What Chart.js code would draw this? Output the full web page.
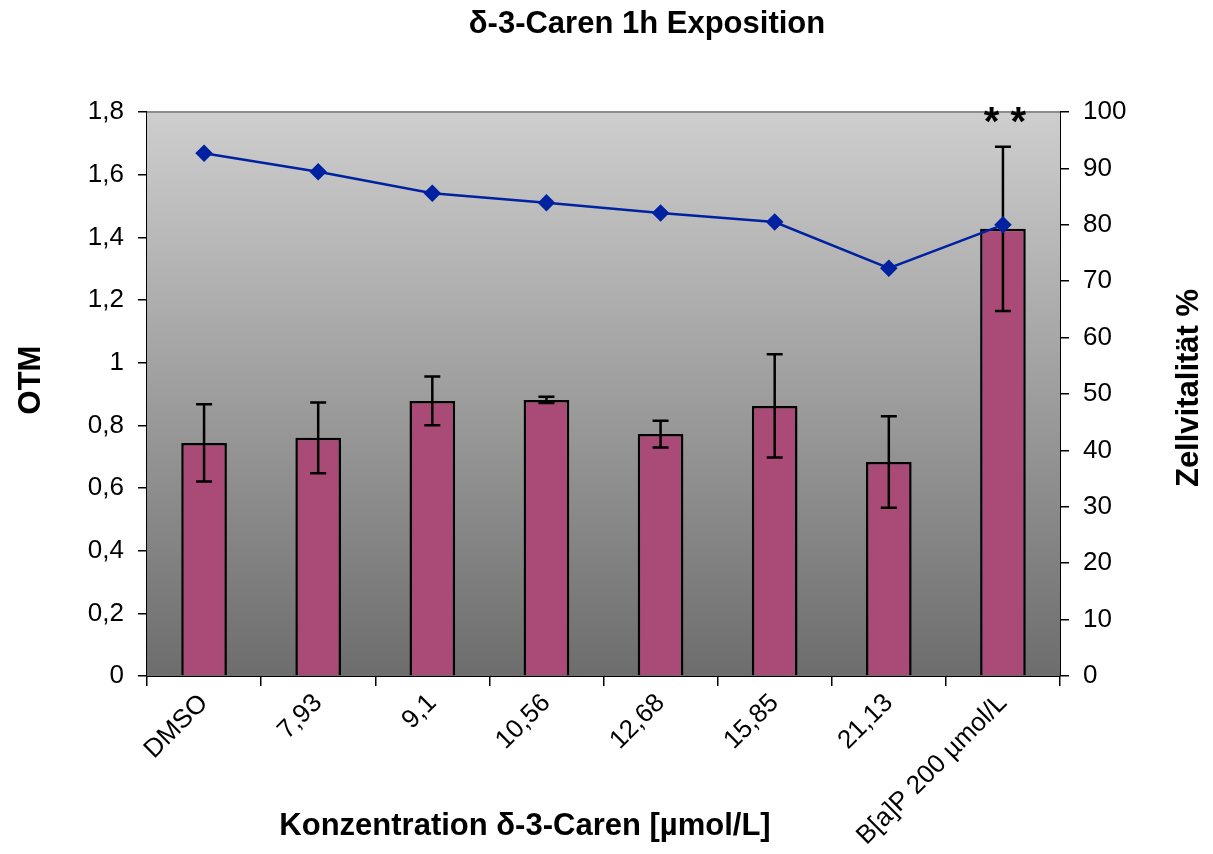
<!DOCTYPE html>
<html>
<head>
<meta charset="utf-8">
<script src="https://cdn.jsdelivr.net/npm/chart.js@4"></script>
<style>
  body { margin: 0; background: #fff; }
</style>
</head>
<body>
<canvas id="chart" width="1213" height="854"></canvas>
<script>
Chart.defaults.font.family = "'Liberation Sans', Arial, sans-serif";
Chart.defaults.color = '#000';

// data
var categories = ['DMSO', '7,93', '9,1', '10,56', '12,68', '15,85', '21,13', 'B[a]P 200 µmol/L'];
var otm_values = [0.744, 0.760, 0.878, 0.881, 0.772, 0.862, 0.683, 1.427];
var otm_errors = [0.123, 0.113, 0.078, 0.010, 0.043, 0.165, 0.146, 0.262];
var vitality = [92.7, 89.4, 85.6, 83.9, 82.1, 80.5, 72.3, 80.0];
var significance = ['', '', '', '', '', '', '', '**'];

var chart_title = 'δ-3-Caren 1h Exposition';
var x_title = 'Konzentration δ-3-Caren [µmol/L]';
var y_left_title = 'OTM';
var y_right_title = 'Zellvitalität %';

function comma(v) {
    return String(Number(v.toFixed(1))).replace('.', ',');
}

// grey gradient behind the plot area
var backdrop = {
    id: 'backdrop',
    beforeDatasetsDraw: function(chart) {
        var a = chart.chartArea;
        var ctx = chart.ctx;
        var g = ctx.createLinearGradient(0, a.top, 0, a.bottom);
        g.addColorStop(0, '#cecece');
        g.addColorStop(1, '#6d6d6d');
        ctx.save();
        ctx.fillStyle = g;
        ctx.fillRect(a.left, a.top, a.right - a.left, a.bottom - a.top);
        ctx.strokeStyle = '#8c8c8c';
        ctx.lineWidth = 2;
        ctx.beginPath();
        ctx.moveTo(a.left, a.top);
        ctx.lineTo(a.right, a.top);
        ctx.stroke();
        ctx.restore();
    }
};

// error bars + significance stars, drawn right after the bars
var errorbars = {
    id: 'errorbars',
    afterDatasetDraw: function(chart, args) {
        if (args.index !== 0) return;
        var ctx = chart.ctx;
        var y = chart.scales.y;
        var meta = chart.getDatasetMeta(0);
        ctx.save();
        ctx.strokeStyle = '#000';
        ctx.lineWidth = 2.5;
        meta.data.forEach(function(bar, i) {
            var x = bar.x;
            var hi = y.getPixelForValue(otm_values[i] + otm_errors[i]);
            var lo = y.getPixelForValue(otm_values[i] - otm_errors[i]);
            ctx.beginPath();
            ctx.moveTo(x, hi); ctx.lineTo(x, lo);
            ctx.moveTo(x - 8, hi); ctx.lineTo(x + 8, hi);
            ctx.moveTo(x - 8, lo); ctx.lineTo(x + 8, lo);
            ctx.stroke();
            if (significance[i]) {
                ctx.fillStyle = '#000';
                ctx.font = "bold 40px 'Liberation Sans', Arial, sans-serif";
                ctx.textAlign = 'center';
                ctx.textBaseline = 'middle';
                ctx.fillText(significance[i].split('').join(' '), x + 2, chart.chartArea.top + 12);
            }
        });
        ctx.restore();
    }
};

// titles placed like the original
var titles = {
    id: 'titles',
    afterDraw: function(chart) {
        var ctx = chart.ctx;
        var a = chart.chartArea;
        ctx.save();
        ctx.fillStyle = '#000';
        ctx.textAlign = 'center';
        ctx.textBaseline = 'middle';
        ctx.font = "bold 31px 'Liberation Sans', Arial, sans-serif";
        ctx.fillText(chart_title, 647, 24);
        ctx.fillText(x_title, 525, 826);
        ctx.translate(31, 380);
        ctx.rotate(-Math.PI / 2);
        ctx.fillText(y_left_title, 0, 0);
        ctx.restore();
        ctx.save();
        ctx.fillStyle = '#000';
        ctx.textAlign = 'center';
        ctx.textBaseline = 'middle';
        ctx.font = "bold 31px 'Liberation Sans', Arial, sans-serif";
        ctx.translate(1189, 388);
        ctx.rotate(-Math.PI / 2);
        ctx.fillText(y_right_title, 0, 0);
        ctx.restore();
    }
};

const ctx = document.getElementById('chart');
new Chart(ctx, {
    data: {
        labels: categories,
        datasets: [{
            type: 'bar',
            label: 'OTM',
            data: otm_values,
            yAxisID: 'y',
            backgroundColor: '#aa4a77',
            borderColor: '#000',
            borderWidth: 2.5,
            barPercentage: 0.4,
            categoryPercentage: 1.0,
            order: 1
        }, {
            type: 'line',
            label: 'Zellvitalität',
            data: vitality,
            yAxisID: 'y2',
            borderColor: '#0022a0',
            backgroundColor: '#0022a0',
            borderWidth: 2.5,
            pointStyle: 'rectRot',
            pointRadius: 7,
            pointHoverRadius: 7,
            tension: 0,
            order: 0
        }]
    },
    options: {
        responsive: false,
        animation: false,
        layout: { padding: { top: 112, left: 0, right: 0, bottom: 0 } },
        plugins: {
            legend: { display: false },
            tooltip: { enabled: false },
            title: { display: false }
        },
        scales: {
            x: {
                offset: true,
                grid: {
                    offset: true,
                    drawOnChartArea: false,
                    tickLength: 10,
                    color: '#000',
                    lineWidth: 1.5
                },
                border: { color: '#000', width: 2 },
                ticks: {
                    font: { size: 26 },
                    minRotation: 45,
                    maxRotation: 45,
                    autoSkip: false,
                    padding: 2
                },
                afterFit: function(s) { s.height = 178; }
            },
            y: {
                position: 'left',
                min: 0,
                max: 1.8,
                ticks: {
                    stepSize: 0.2,
                    font: { size: 26 },
                    padding: 14,
                    callback: function(v) { return comma(v); }
                },
                grid: {
                    drawOnChartArea: false,
                    tickLength: 9,
                    color: '#000',
                    lineWidth: 1.5
                },
                border: { color: '#000', width: 2 },
                afterFit: function(s) { s.width = 147; }
            },
            y2: {
                position: 'right',
                min: 0,
                max: 100,
                ticks: {
                    stepSize: 10,
                    font: { size: 26 },
                    padding: 14
                },
                grid: {
                    drawOnChartArea: false,
                    tickLength: 9,
                    color: '#000',
                    lineWidth: 1.5
                },
                border: { color: '#000', width: 2 },
                afterFit: function(s) { s.width = 153; }
            }
        }
    },
    plugins: [backdrop, errorbars, titles]
});
</script>
</body>
</html>
